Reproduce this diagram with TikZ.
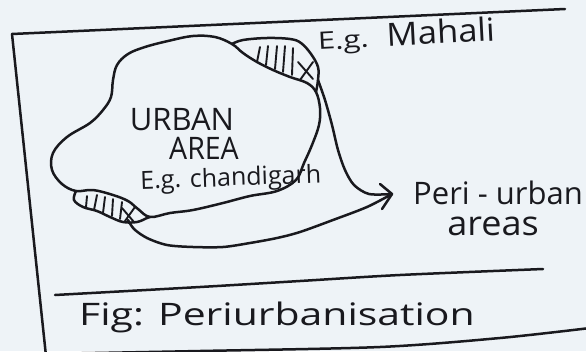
\documentclass[tikz,border=0pt]{standalone}
\usepackage{fontspec}
\setmainfont{Open Sans}
\usepackage{graphicx}
\definecolor{paper}{RGB}{238,243,247}
\definecolor{ink}{RGB}{25,25,30}
\begin{document}
\begin{tikzpicture}[x=1pt,y=-1pt,line width=2.5pt,draw=ink,line cap=round,line join=round,
  hw/.style={font=\fontsize{#1}{#1}\selectfont,inner sep=0pt,text=ink,anchor=base},
  hatch/.style={line width=1.9pt}]
\fill[paper] (0,0) rectangle (586,351);
\useasboundingbox (0,0) rectangle (586,351);
% page frame
\draw (12,34) -- (565,9);
\draw (12,34) -- (46,356);
\draw plot[smooth] coordinates {(55,295) (200,287) (300,281) (400,275) (543,269)};
\draw plot[smooth] coordinates {(40,354) (200,351) (380,347) (500,338) (590,328)};
% urban area blob
\draw plot[smooth cycle,tension=0.6] coordinates {(193,36) (215,37) (232,44) (243,53) (257,62) (273,70) (290,77) (307,83) (316,92) (320,108) (319,125) (312,145) (304,163) (296,180) (277,191) (250,196) (223,203) (193,210) (170,213) (150,217) (138,209) (128,201) (113,195) (93,190) (76,191) (62,184) (52,170) (53,153) (67,137) (90,123) (103,110) (111,97) (113,80) (117,65) (128,54) (145,47) (168,41)};
% Mahali lens
\draw plot[smooth,tension=0.6] coordinates {(232,44) (243,40) (267,38) (290,39) (301,43) (311,54) (318,67) (318,80) (316,92)};
\draw[hatch] (260,47) -- (257,62);
\draw[hatch] (268,46) -- (266,65);
\draw[hatch] (277,46) -- (275,69);
\draw[hatch] (285,46) -- (283,72);
\draw[hatch] (293,48) -- (292,75);
\draw[hatch] (298,62) -- (313,79);
\draw[hatch] (300,80) -- (313,62);
% Chandigarh lens
\draw plot[smooth,tension=0.6] coordinates {(76,191) (74,200) (83,207) (97,211) (110,217) (123,222) (137,222) (147,218) (150,217)};
\draw[hatch] (87,196) -- (86,207);
\draw[hatch] (97,195) -- (94,210);
\draw[hatch] (105,197) -- (103,213);
\draw[hatch] (113,199) -- (112,216);
\draw[hatch] (122,202) -- (120,219);
\draw[hatch] (122,208) -- (134,222);
\draw[hatch] (125,221) -- (135,207);
% peri-urban outer curve with arrow
\coordinate (tip) at (392,194);
\coordinate (mstart) at (318,80);
\coordinate (cstart) at (128,220);
\draw plot[smooth] coordinates {(318,80) (325,100) (332,125) (338,150) (345,170) (354,185) (369,194) (392,194)};
\draw plot[smooth] coordinates {(392,194) (367,207) (333,220) (300,232) (277,238) (250,243) (223,247) (193,247) (167,245) (147,238) (134,229) (128,220)};
\draw (380,184) -- (tip) -- (382,209);
% texts
\node[hw=31,text depth=0pt] (urban) at (182,130) {URBAN};
\node[hw=31,text depth=0pt] (area) at (204,159) {\scalebox{0.92}[1]{AREA}};
\node[hw=25,rotate=2] (chd) at (231,186) {E.g. chandigarh};
\node[hw=32,anchor=base west,rotate=3] (mah) at (317,50) {{\fontsize{24}{24}\selectfont\scalebox{1.3}[1]{E.g.}}\hspace{18pt}\scalebox{1.08}[1]{Mahali}};
\node[hw=31,text depth=0pt] (peri) at (498,204) {Peri - urban};
\node[hw=34,text height=18pt,text depth=0pt] (areas) at (493,235) {\scalebox{1.06}[1]{areas}};
\node[hw=31] (fig) at (277,325) {\scalebox{1.32}[1]{Fig: Periurbanisation}};
\end{tikzpicture}
\end{document}
